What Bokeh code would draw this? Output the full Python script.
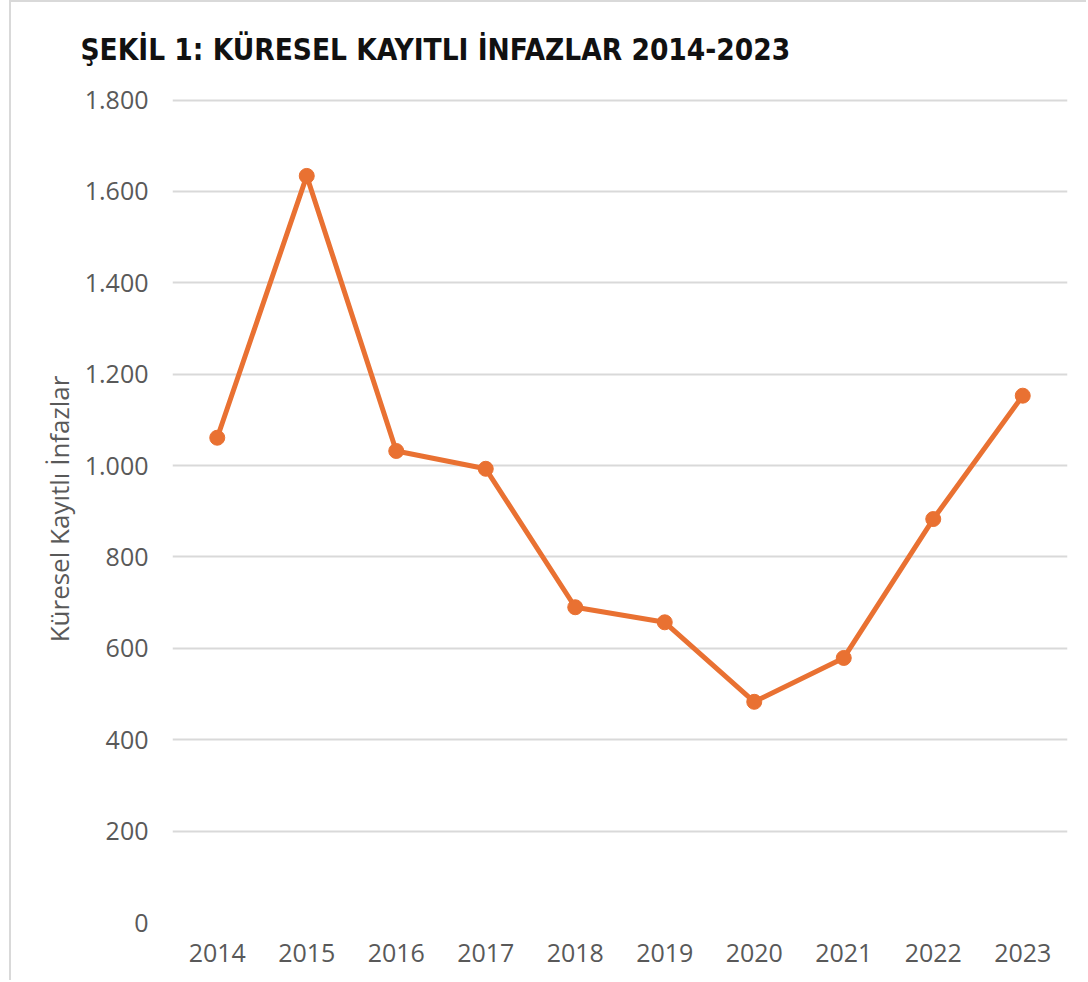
from bokeh.plotting import figure
from bokeh.models import FixedTicker, Title
from bokeh.embed import file_html
from bokeh.resources import INLINE

years = ["2014", "2015", "2016", "2017", "2018", "2019", "2020", "2021", "2022", "2023"]
executions = [1061, 1634, 1032, 993, 690, 657, 483, 579, 883, 1153]
y_ticks = [0, 200, 400, 600, 800, 1000, 1200, 1400, 1600, 1800]
title_text = "ŞEKİL 1: KÜRESEL KAYITLI İNFAZLAR 2014-2023"
y_label = "Küresel Kayıtlı İnfazlar"

LINE = "#E97132"
GRID = "#D9D9D9"
TXT = "#595959"
FONT = "Open Sans"

p = figure(
    x_range=years, y_range=(0, 1810),
    width=1077, height=980,
    output_backend="svg", toolbar_location=None,
    min_border_left=161, min_border_right=21, min_border_top=93, min_border_bottom=60,
)
p.title = None
t = Title(text=title_text, text_font="DejaVu Sans Condensed", text_font_style="bold",
          text_font_size="29.5px", text_color="#111111", align="left", offset=-92, standoff=57)
p.add_layout(t, "above")

p.line(years, executions, line_color=LINE, line_width=5)
p.scatter(years, executions, size=15, fill_color=LINE, line_color=LINE)

p.outline_line_color = None
p.xgrid.grid_line_color = None
p.ygrid.grid_line_color = GRID
p.ygrid.grid_line_width = 2

p.yaxis.ticker = FixedTicker(ticks=y_ticks)
p.yaxis.major_label_overrides = {v: f"{v:,}".replace(",", ".") for v in y_ticks}
for ax in (p.xaxis, p.yaxis):
    ax.axis_line_color = None
    ax.major_tick_line_color = None
    ax.minor_tick_line_color = None
    ax.major_label_text_font = FONT
    ax.major_label_text_font_size = "25px"
    ax.major_label_text_color = TXT
p.yaxis.major_label_standoff = 18
p.xaxis.major_label_standoff = 15
p.yaxis.axis_label = y_label
p.yaxis.axis_label_text_font = FONT
p.yaxis.axis_label_text_font_style = "normal"
p.yaxis.axis_label_text_font_size = "26px"
p.yaxis.axis_label_text_color = TXT
p.yaxis.axis_label_standoff = 5

p.styles = {"border-left": "2px solid #D9D9D9", "border-top": "2px solid #D9D9D9", "margin-left": "9px"}

open("out.html", "w").write(file_html(p, INLINE))
